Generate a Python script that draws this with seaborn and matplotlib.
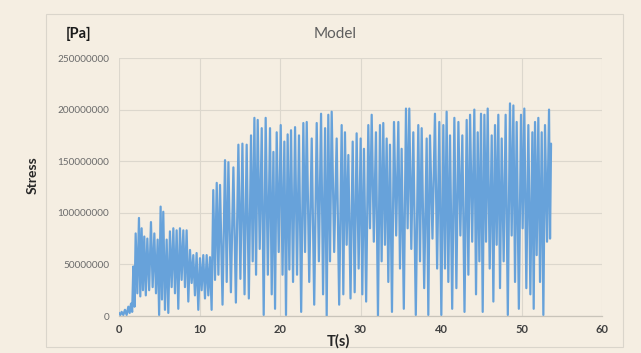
import numpy as np
import pandas as pd
import matplotlib
matplotlib.use("Agg")
import matplotlib.pyplot as plt
from matplotlib.patches import Rectangle
from matplotlib.ticker import FuncFormatter
import seaborn as sns

# Stress record: for every oscillation cycle, its time [s], peak and trough stress [MPa]
cycle_time = [
    0.00, 0.33, 0.74, 1.16, 1.49, 1.78, 2.07, 2.48, 2.81, 3.14, 3.52, 3.97, 4.39, 4.80,
    5.17, 5.50, 5.92, 6.33, 6.75, 7.16, 7.57, 7.99, 8.40, 8.82, 9.23, 9.64, 10.06, 10.47,
    10.89, 11.30, 11.71,
    12.14, 12.55, 13.17, 13.59, 14.21, 14.83, 15.33, 15.86, 16.40, 16.82, 17.23, 17.73,
    18.22, 18.76, 19.18, 19.59, 20.09, 20.54, 20.95, 21.37, 21.87, 22.36, 22.90, 23.32,
    23.94, 24.56, 25.10, 25.60, 26.00,
    26.42, 27.04, 27.66, 28.07, 28.49, 29.03, 29.52, 30.02, 30.43, 30.97, 31.39, 31.92,
    32.42, 32.83, 33.25, 33.66, 34.16, 34.70, 35.11, 35.65, 36.06, 36.56, 37.18, 37.60,
    38.22, 38.63, 39.25, 39.79, 40.29, 40.70,
    41.12, 41.66, 42.16, 42.65, 43.19, 43.61, 44.14, 44.56, 44.97, 45.39, 45.80, 46.30,
    46.71, 47.12, 47.54, 48.03, 48.57, 48.99, 49.40, 49.94, 50.35, 50.85, 51.35, 51.68,
    52.09, 52.51, 52.92, 53.42,
]
peak_mpa = [
    3, 4, 6, 9, 12, 48, 80, 95, 85, 77, 75, 91, 80, 74,
    106, 101, 74, 82, 85, 83, 85, 83, 83, 64, 59, 61, 56, 59,
    59, 57, 122,
    129, 127, 151, 149, 144, 166, 167, 166, 175, 192, 190, 182,
    192, 182, 159, 178, 185, 169, 176, 180, 183, 175, 187, 188,
    172, 187, 196, 182, 195,
    198, 172, 185, 178, 156, 169, 177, 172, 162, 185, 195, 178,
    185, 187, 172, 166, 188, 188, 162, 201, 201, 178, 185, 182,
    172, 175, 196, 188, 185, 198,
    175, 192, 188, 175, 190, 195, 200, 178, 196, 195, 201, 175,
    185, 195, 172, 195, 206, 204, 188, 195, 201, 185, 178, 188,
    192, 178, 185, 200,
]
trough_mpa = [
    1, 1, 1, 3, 4, 9, 22, 19, 25, 20, 25, 28, 22, 1,
    16, 6, 3, 28, 22, 7, 35, 28, 14, 32, 20, 6, 25, 17,
    20, 6, 35,
    40, 11, 33, 23, 13, 36, 21, 17, 53, 40, 65, 1,
    40, 21, 7, 62, 40, 1, 45, 33, 40, 4, 62, 33,
    11, 53, 21, 0, 53,
    62, 11, 21, 69, 17, 23, 46, 21, 14, 85, 72, 0,
    53, 69, 33, 4, 78, 46, 7, 85, 65, 1, 53, 27,
    1, 75, 46, 1, 46, 33,
    7, 27, 78, 4, 40, 72, 21, 53, 4, 72, 46, 14,
    69, 27, 53, 1, 78, 33, 7, 85, 27, 21, 7, 59,
    33, 1, 72, 75,
]
end_time, end_mpa = 53.67, 167

x_ticks = [0, 10, 20, 30, 40, 50, 60]
y_ticks = [0, 50000000, 100000000, 150000000, 200000000, 250000000]

# Each cycle contributes its peak, then its trough halfway to the next cycle
t = np.asarray(cycle_time)
t_next = np.append(t[1:], end_time)
times, stress = [], []
for ti, tn, p, q in zip(t, t_next, peak_mpa, trough_mpa):
    times += [ti, (ti + tn) / 2]
    stress += [p * 1e6, q * 1e6]
times.append(end_time)
stress.append(end_mpa * 1e6)
df = pd.DataFrame({"T(s)": times, "Stress": stress})

bg = "#f5eee2"
sns.set_theme(style="white")
plt.rcParams["font.family"] = ["Lato", "DejaVu Sans"]

fig = plt.figure(figsize=(6.41, 3.53), dpi=100, facecolor=bg)
ax = fig.add_axes([119 / 641, 1 - 316 / 353, 483 / 641, 258 / 353])
ax.set_facecolor(bg)

sns.lineplot(data=df, x="T(s)", y="Stress", ax=ax, color="#67a2da",
             linewidth=1.6, sort=False, estimator=None)

ax.set_xlim(x_ticks[0], x_ticks[-1])
ax.set_ylim(y_ticks[0], y_ticks[-1])
ax.set_xticks(x_ticks)
ax.set_yticks(y_ticks)
ax.yaxis.set_major_formatter(FuncFormatter(lambda v, _: f"{int(round(v))}"))
ax.grid(True, color="#dcd7cd", linewidth=0.8)
ax.set_axisbelow(True)
for side in ("left", "right", "top"):
    ax.spines[side].set_visible(False)
ax.spines["bottom"].set_color("#c9c4ba")
ax.spines["bottom"].set_linewidth(0.9)
ax.tick_params(axis="both", length=0)
ax.tick_params(axis="y", labelsize=7.2, labelcolor="#6b6b6b", pad=7)
ax.tick_params(axis="x", labelsize=8, labelcolor="#404040", pad=6)
for lab in ax.get_xticklabels():
    lab.set_fontweight("bold")
ax.set_xlabel("")
ax.set_ylabel("")

fig.text(338 / 641, 1 - 341 / 353, "T(s)", ha="center", va="center",
         fontsize=10.5, fontweight="bold", color="#262626")
fig.text(33 / 641, 1 - 175 / 353, "Stress", ha="center", va="center",
         rotation=90, fontsize=10, fontweight="bold", color="#262626")
fig.text(79 / 641, 1 - 34 / 353, "[Pa]", ha="center", va="center",
         fontsize=10.5, fontweight="bold", color="#1a1a1a")
fig.text(335 / 641, 1 - 34 / 353, "Model", ha="center", va="center",
         fontsize=11, color="#5e5e5e")

# light frame around the chart area
fig.add_artist(Rectangle((46 / 641, 1 - 347 / 353), 577 / 641, 333 / 353,
                         transform=fig.transFigure, fill=False,
                         edgecolor="#dad5cb", linewidth=0.8))

fig.savefig("out.png", dpi=100, facecolor=bg)
